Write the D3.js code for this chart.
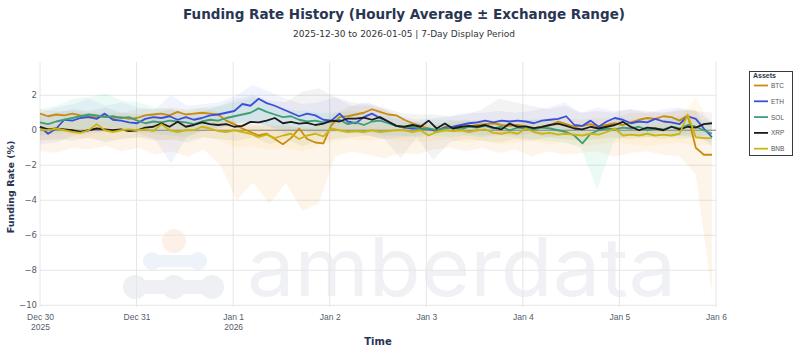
<!DOCTYPE html>
<html>
<head>
<meta charset="utf-8">
<script src="https://cdn.jsdelivr.net/npm/d3@7"></script>
<style>
  body { margin: 0; background: #fff; }
  svg { display: block; font-family: "DejaVu Sans", Verdana, sans-serif; }
</style>
</head>
<body>
<div id="chart"></div>
<script>
// ---- data ----
const assets = ["BTC", "ETH", "SOL", "XRP", "BNB"];
const lineColors = ["#c88d10", "#3b4fdc", "#3f9e78", "#1b1b1b", "#cdb50c"];
const bandColors = ["#f7931a", "#627eea", "#2ec4a0", "#555555", "#f3ba2f"];

// hourly averages, sampled every ~2h, Dec 30 00:00 -> Jan 5 23:00
const btcMean = [0.95, 0.8, 0.9, 0.85, 0.95, 0.85, 0.8, 0.75, 0.8, 0.7,
  0.75, 0.65, 0.7, 0.85, 0.9, 0.95, 0.85, 1.05, 0.9, 0.95,
  1.0, 0.95, 0.9, 0.55, 0.35, 0.1, -0.1, -0.3, -0.2, -0.5,
  -0.8, -0.45, 0.1, -0.5, -0.7, -0.75, 0.3, 0.75, 0.8, 0.9,
  1.0, 1.2, 1.05, 0.9, 0.85, 0.6, 0.4, 0.25, 0.1, -0.1,
  0.2, 0.1, 0.15, 0.2, 0.3, 0.35, 0.4, 0.3, 0.25, 0.3,
  0.2, 0.1, 0.2, 0.3, 0.5, 0.35, 0.2, 0.25, 0.35, 0.2,
  0.3, 0.4, 0.3, 0.45, 0.6, 0.7, 0.65, 0.8, 0.75, 0.55,
  0.85, -1.0, -1.4, -1.4];
const ethMean = [0.2, -0.2, 0.1, 0.6, 0.55, 0.7, 0.75, 0.65, 0.95, 0.6,
  0.55, 0.45, 0.4, 0.65, 0.75, 0.7, 0.8, 0.6, 0.75, 0.6,
  0.7, 0.85, 0.9, 1.0, 1.1, 1.5, 1.4, 1.8, 1.55, 1.4,
  1.2, 1.0, 0.8, 0.95, 0.85, 0.6, 0.55, 0.95, 0.5, 0.4,
  0.75, 0.95, 0.7, 0.5, 0.25, 0.15, 0.1, 0.1, 0.05, 0.0,
  0.15, 0.2, 0.3, 0.4, 0.45, 0.55, 0.45, 0.55, 0.5, 0.55,
  0.5, 0.4, 0.55, 0.6, 0.65, 0.8, 0.3, 0.25, 0.55, 0.2,
  0.5, 0.7, 0.6, 0.4, 0.5, 0.45, 0.65, 0.5, 0.45, 0.35,
  0.8, 0.65, 0.1, -0.4];
const solMean = [0.45, 0.35, 0.5, 0.6, 0.7, 0.8, 0.9, 0.85, 0.75, 0.8,
  0.7, 0.75, 0.55, 0.4, 0.5, 0.45, 0.55, 0.5, 0.45, 0.35,
  0.5, 0.6, 0.55, 0.7, 0.8, 0.9, 1.0, 1.25, 1.05, 0.9,
  0.75, 0.8, 0.6, 0.5, 0.55, 0.45, 0.5, 0.6, 0.35, 0.45,
  0.3, 0.5, 0.55, 0.4, 0.25, 0.15, 0.2, 0.05, 0.1, 0.0,
  0.1, 0.15, 0.05, 0.2, 0.15, 0.25, 0.1, 0.2, 0.0, 0.15,
  0.1, 0.05, 0.15, 0.1, 0.0, -0.1, -0.3, -0.75, -0.2, 0.0,
  0.1, 0.05, 0.15, 0.1, 0.2, 0.0, 0.1, 0.05, 0.2, 0.1,
  0.3, 0.2, 0.0, -0.2];
const xrpMean = [0.2, 0.05, 0.1, 0.05, 0.0, -0.1, 0.0, 0.1, 0.05, 0.0,
  0.05, -0.05, 0.0, 0.15, 0.2, 0.4, 0.2, 0.48, 0.2, 0.3,
  0.45, 0.35, 0.3, 0.35, 0.2, 0.25, 0.48, 0.45, 0.55, 0.7,
  0.4, 0.48, 0.38, 0.42, 0.3, 0.38, 0.55, 0.5, 0.67, 0.67,
  0.72, 0.6, 0.75, 0.5, 0.25, 0.2, 0.3, 0.2, 0.55, 0.1,
  0.38, 0.1, 0.2, 0.25, 0.2, 0.3, 0.15, 0.05, 0.38, 0.19,
  0.22, 0.12, 0.19, 0.3, 0.38, 0.25, 0.1, 0.05, 0.2, 0.1,
  0.2, 0.3, 0.48, 0.19, 0.0, 0.15, 0.1, 0.0, 0.2, 0.05,
  0.2, 0.15, 0.35, 0.4];
const bnbMean = [0.05, 0.0, 0.1, 0.0, -0.1, -0.15, 0.0, 0.35, 0.0, -0.1,
  0.0, 0.05, 0.0, 0.05, -0.05, 0.35, 0.0, -0.1, 0.0, 0.0,
  0.2, 0.1, -0.05, -0.1, 0.0, -0.1, -0.2, -0.4, -0.25, -0.45,
  -0.3, -0.2, -0.5, -0.3, -0.2, -0.35, 0.1, 0.0, -0.1, -0.05,
  -0.1, 0.0, -0.1, -0.05, 0.0, 0.0, -0.1, 0.0, -0.3, -0.1,
  0.0, -0.05, 0.0, -0.1, 0.0, 0.05, -0.15, -0.2, -0.1, -0.2,
  0.1, -0.1, -0.2, -0.15, -0.25, -0.2, -0.25, -0.3, -0.2, -0.25,
  -0.1, 0.1, -0.3, -0.25, -0.3, -0.2, -0.3, -0.25, -0.3, -0.2,
  0.9, -0.4, -0.45, -0.45];

// exchange range (max / min across venues), sampled every ~4h
const btcHigh = [1.2, 1.1, 1.1, 1.0, 1.0, 1.0, 1.2, 1.2, 1.3, 1.2, 1.3, 1.0, 0.4, 0.3,
  0.2, 0.3, 0.1, 0.2, 1.0, 1.4, 1.4, 1.2, 0.6, 0.4, 0.3, 0.5, 0.6, 0.5,
  0.5, 0.6, 0.6, 0.7, 0.7, 0.6, 0.7, 0.7, 1.0, 1.0, 1.0, 1.1, 1.2, -0.8];
const btcLow = [-1.2, -1.3, -1.0, -1.1, -0.9, -1.2, -1.0, -1.4, -1.2, -1.5, -1.1, -2.0, -4.0, -3.0,
  -4.2, -3.0, -4.6, -4.2, -1.5, -1.2, -1.4, -1.6, -1.3, -1.4, -1.1, -1.0, -1.2, -1.0,
  -1.3, -1.1, -1.5, -1.2, -1.4, -1.3, -1.2, -1.5, -1.3, -1.2, -1.4, -1.5, -2.5, -9.3];
const ethHigh = [1.0, 1.3, 1.5, 1.8, 1.4, 1.6, 1.3, 1.2, 2.0, 1.4, 1.5, 1.6, 2.0, 2.6,
  2.2, 1.8, 1.5, 1.6, 1.9, 1.4, 1.6, 1.2, 0.8, 0.6, 0.7, 0.8, 1.0, 1.0,
  1.1, 1.0, 1.1, 1.3, 1.6, 1.0, 1.3, 1.1, 1.2, 1.0, 1.2, 1.3, 1.1, 0.5];
const ethLow = [-0.8, -0.7, -0.3, -0.2, -0.1, 0.0, -0.2, -0.5, -1.9, -0.3, 0.0, 0.1, 0.4, 0.5,
  0.2, -0.2, 0.0, -0.2, 0.0, -0.1, -0.3, -0.5, -0.4, -0.3, -0.2, -0.1, -0.2, -0.3,
  -0.2, -0.3, -0.2, -0.4, -0.2, -0.3, -0.2, -0.1, -0.3, -0.2, -0.1, -0.3, -0.2, -0.9];
const solHigh = [1.2, 1.4, 1.8, 1.9, 2.1, 1.7, 1.6, 1.3, 1.2, 1.1, 1.3, 1.4, 1.6, 1.9,
  1.5, 1.2, 1.1, 1.0, 1.0, 1.1, 1.0, 0.8, 0.6, 0.5, 0.6, 0.6, 0.5, 0.6,
  0.5, 0.5, 0.6, 0.6, 0.4, 0.2, 0.0, 0.6, 0.6, 0.7, 0.6, 0.8, 0.7, 0.4];
const solLow = [-0.3, -0.2, 0.0, 0.1, 0.2, 0.0, -0.1, -0.2, -0.3, -0.4, 0.0, 0.2, 0.4, 0.5,
  0.2, 0.0, -0.1, -0.2, -0.1, -0.2, -0.1, -0.3, -0.3, -0.4, -0.3, -0.4, -0.3, -0.4,
  -0.3, -0.4, -0.5, -0.6, -0.7, -1.0, -3.4, -0.6, -0.3, -0.4, -0.3, -0.5, -0.4, -0.7];
const xrpHigh = [0.8, 1.0, 1.2, 1.1, 1.3, 1.0, 0.9, 1.0, 1.2, 0.9, 1.1, 1.4, 1.8, 2.0,
  1.7, 1.6, 2.2, 2.4, 1.9, 1.6, 1.5, 1.3, 1.0, 0.9, 0.9, 0.8, 0.9, 1.2,
  1.8, 1.6, 1.4, 1.2, 1.4, 1.0, 1.1, 1.0, 1.2, 1.1, 1.0, 1.2, 1.1, 1.0];
const xrpLow = [-0.6, -0.5, -0.6, -0.4, -0.7, -0.5, -0.4, -0.6, -0.5, -0.7, -0.4, -0.5, -0.6, -0.4,
  -0.8, -0.5, -0.9, -0.6, -0.5, -0.4, -0.3, -0.5, -1.6, -0.4, -1.7, -0.7, -0.5, -0.6,
  -0.7, -0.5, -0.6, -0.4, -0.5, -0.6, -0.5, -0.4, -0.5, -0.4, -0.5, -0.3, -0.4, -0.2];
const bnbHigh = [0.5, 0.4, 0.5, 0.6, 0.5, 0.4, 0.5, 0.6, 0.5, 0.4, 0.5, 0.6, 0.3, 0.2,
  0.3, 0.2, 0.2, 0.3, 0.4, 0.5, 0.4, 0.3, 0.4, 0.5, 0.3, 0.4, 0.5, 0.4,
  0.3, 0.4, 0.3, 0.4, 0.3, 0.2, 0.3, 0.4, 0.3, 0.2, 0.4, 0.6, 1.9, 0.2];
const bnbLow = [-0.5, -0.6, -0.4, -0.5, -0.6, -0.5, -0.4, -0.5, -0.6, -0.5, -0.4, -0.6, -1.0, -0.9,
  -1.1, -1.0, -1.2, -0.9, -0.6, -0.5, -0.6, -0.5, -0.6, -0.7, -0.6, -0.5, -0.7, -0.6,
  -0.8, -0.7, -0.6, -0.8, -0.7, -0.9, -0.8, -0.7, -0.8, -0.9, -0.8, -0.7, -0.9, -0.8];

const yTicks = [2, 0, -2, -4, -6, -8, -10];
const dayTicks = ["2025-12-30", "2025-12-31", "2026-01-01", "2026-01-02",
  "2026-01-03", "2026-01-04", "2026-01-05", "2026-01-06"];

const means = [btcMean, ethMean, solMean, xrpMean, bnbMean];
const highs = [btcHigh, ethHigh, solHigh, xrpHigh, bnbHigh];
const lows = [btcLow, ethLow, solLow, xrpLow, bnbLow];

// ---- layout ----
const W = 800, H = 350;
const margin = { top: 62, right: 84, bottom: 43, left: 40 },
  width = W - margin.left - margin.right,
  height = H - margin.top - margin.bottom;

const start = new Date(Date.UTC(2025, 11, 30));
const lastHour = 167;
const hourMs = 3600 * 1000;
const timeAt = (i, n) => new Date(start.getTime() + i * (lastHour / (n - 1)) * hourMs);
const dayDates = dayTicks.map(d => new Date(d + "T00:00:00Z"));

const x = d3.scaleUtc()
  .domain([start, dayDates[dayDates.length - 1]])
  .range([0, width]);

const y = d3.scaleLinear()
  .domain([-10.1, 3.9])
  .range([height, 0]);

const svg = d3.select("#chart").append("svg")
  .attr("width", W)
  .attr("height", H);

// ---- watermark (under the grid) ----
const wm = svg.append("g");
wm.append("circle").attr("cx", 174).attr("cy", 241).attr("r", 12).attr("fill", "#fdf0e7");
[[152, 261], [198, 261]].forEach(c =>
  wm.append("circle").attr("cx", c[0]).attr("cy", c[1]).attr("r", 9).attr("fill", "#eef2f9"));
wm.append("rect").attr("x", 152).attr("y", 255).attr("width", 46).attr("height", 12).attr("fill", "#eef2f9");
[[135, 287], [174, 287], [212, 287]].forEach(c =>
  wm.append("circle").attr("cx", c[0]).attr("cy", c[1]).attr("r", 12).attr("fill", "#eff0f3"));
wm.append("rect").attr("x", 135).attr("y", 280).attr("width", 77).attr("height", 14).attr("fill", "#eff0f3");
wm.append("text")
  .attr("x", 247).attr("y", 296)
  .attr("textLength", 429).attr("lengthAdjust", "spacingAndGlyphs")
  .style("font-family", "Inter, 'Noto Sans', sans-serif")
  .style("font-size", "81px")
  .attr("fill", "#f0f1f4")
  .text("amberdata");

const g = svg.append("g")
  .attr("transform", `translate(${margin.left},${margin.top})`);

// ---- grid ----
g.append("g")
  .selectAll("line")
  .data(yTicks)
  .join("line")
  .attr("x1", 0).attr("x2", width)
  .attr("y1", d => y(d)).attr("y2", d => y(d))
  .attr("stroke", "#e6e6e6");

g.append("g")
  .selectAll("line")
  .data(dayDates)
  .join("line")
  .attr("x1", d => x(d)).attr("x2", d => x(d))
  .attr("y1", 0).attr("y2", height)
  .attr("stroke", "#e6e6e6");

// zero reference line
g.append("line")
  .attr("x1", 0).attr("x2", width)
  .attr("y1", y(0)).attr("y2", y(0))
  .attr("stroke", "#8a8a8a")
  .attr("stroke-width", 1);

// ---- exchange range bands ----
const area = d3.area()
  .x(d => x(d.t))
  .y0(d => y(d.lo))
  .y1(d => y(d.hi));

assets.forEach((a, k) => {
  const pts = highs[k].map((h, j) => ({ t: timeAt(j, highs[k].length), hi: h, lo: lows[k][j] }));
  g.append("path")
    .datum(pts)
    .attr("d", area)
    .attr("fill", bandColors[k])
    .attr("fill-opacity", k === 3 ? 0.07 : 0.09);
});

// ---- average lines ----
const line = d3.line()
  .x(d => x(d.t))
  .y(d => y(d.v));

assets.forEach((a, k) => {
  const pts = means[k].map((v, i) => ({ t: timeAt(i, means[k].length), v }));
  g.append("path")
    .datum(pts)
    .attr("d", line)
    .attr("fill", "none")
    .attr("stroke", lineColors[k])
    .attr("stroke-width", 1.8)
    .attr("stroke-linejoin", "round");
});

// ---- axes ----
const fmtDay = d3.utcFormat("%b %-d");
const xAxis = g.append("g")
  .attr("transform", `translate(0,${height})`)
  .call(d3.axisBottom(x).tickValues(dayDates).tickSize(0));
xAxis.select(".domain").remove();
xAxis.selectAll(".tick text").remove();
xAxis.selectAll(".tick").each(function(d, i) {
  const t = d3.select(this).append("text")
    .attr("fill", "#555d6c")
    .attr("text-anchor", "middle")
    .style("font-size", "8.5px");
  t.append("tspan").attr("x", 0).attr("y", 13).text(fmtDay(d));
  if (i === 0 || (d.getUTCMonth() === 0 && d.getUTCDate() === 1)) {
    t.append("tspan").attr("x", 0).attr("y", 23).text(d.getUTCFullYear());
  }
});

const yAxis = g.append("g")
  .call(d3.axisLeft(y).tickValues(yTicks).tickSize(0).tickPadding(3)
    .tickFormat(d => d < 0 ? "\u2212" + Math.abs(d) : d));
yAxis.select(".domain").remove();
yAxis.selectAll("text")
  .attr("fill", "#555d6c")
  .style("font-family", "'DejaVu Sans', sans-serif")
  .style("font-size", "8.5px");

// ---- titles ----
svg.append("text")
  .attr("x", 404).attr("y", 19)
  .attr("text-anchor", "middle")
  .attr("fill", "#2a3552")
  .style("font-size", "13.5px")
  .style("font-weight", "bold")
  .text("Funding Rate History (Hourly Average \u00b1 Exchange Range)");

svg.append("text")
  .attr("x", 404).attr("y", 37)
  .attr("text-anchor", "middle")
  .attr("fill", "#333")
  .style("font-size", "9px")
  .text("2025-12-30 to 2026-01-05 | 7-Day Display Period");

svg.append("text")
  .attr("transform", "rotate(-90)")
  .attr("x", -187).attr("y", 14)
  .attr("text-anchor", "middle")
  .attr("fill", "#2a3552")
  .style("font-size", "9.5px")
  .style("font-weight", "bold")
  .text("Funding Rate (%)");

svg.append("text")
  .attr("x", margin.left + width / 2).attr("y", 345)
  .attr("text-anchor", "middle")
  .attr("fill", "#2a3552")
  .style("font-size", "10px")
  .style("font-weight", "bold")
  .text("Time");

// ---- legend ----
const legend = svg.append("g").attr("transform", "translate(749.5,71.5)");
legend.append("rect")
  .attr("width", 43).attr("height", 84)
  .attr("fill", "#fff")
  .attr("stroke", "#3a3a3a")
  .attr("stroke-width", 1);
legend.append("text")
  .attr("x", 3.5).attr("y", 6.5)
  .style("font-family", "'Liberation Sans', Arial, sans-serif")
  .style("font-size", "7px")
  .style("font-weight", "bold")
  .attr("fill", "#2a3552")
  .text("Assets");
assets.forEach((a, k) => {
  const row = legend.append("g").attr("transform", `translate(0,${14 + k * 15.8})`);
  row.append("line")
    .attr("x1", 4.5).attr("x2", 18.5)
    .attr("stroke", lineColors[k])
    .attr("stroke-width", 1.8);
  row.append("text")
    .attr("x", 21.5).attr("y", 2.4)
    .style("font-family", "'Liberation Sans', Arial, sans-serif")
    .style("font-size", "6.5px")
    .attr("fill", "#555")
    .text(a);
});
</script>
</body>
</html>
